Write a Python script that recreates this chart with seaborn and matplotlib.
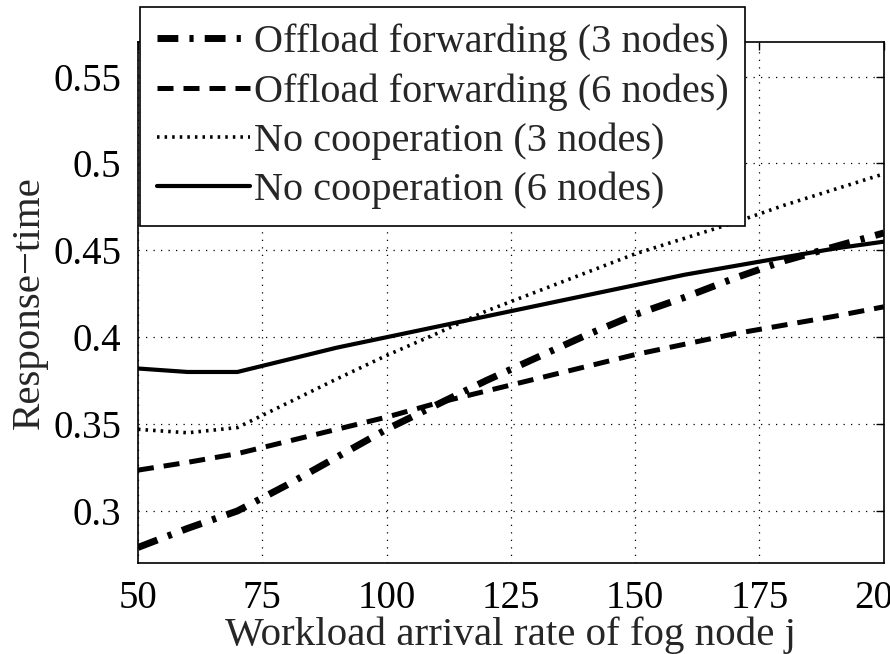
import numpy as np
import pandas as pd
import matplotlib
matplotlib.use("Agg")
import matplotlib.pyplot as plt
import seaborn as sns

x_rate = [50, 60, 70, 80, 90, 100, 110, 120, 130, 140, 150, 160, 170, 180, 190, 200]
offload_3 = [0.279, 0.290, 0.300, 0.315, 0.331, 0.347, 0.361, 0.375, 0.388, 0.401,
             0.413, 0.423, 0.434, 0.444, 0.452, 0.460]
offload_6 = [0.3235, 0.328, 0.333, 0.340, 0.347, 0.354, 0.362, 0.369, 0.376, 0.383,
             0.390, 0.396, 0.402, 0.407, 0.412, 0.4175]
nocoop_3 = [0.347, 0.345, 0.348, 0.362, 0.376, 0.3895, 0.402, 0.415, 0.426, 0.437,
            0.448, 0.457, 0.466, 0.476, 0.485, 0.494]
nocoop_6 = [0.382, 0.380, 0.380, 0.387, 0.394, 0.400, 0.406, 0.412, 0.418, 0.424,
            0.430, 0.436, 0.441, 0.446, 0.451, 0.455]
labels = ["Offload forwarding (3 nodes)", "Offload forwarding (6 nodes)",
          "No cooperation (3 nodes)", "No cooperation (6 nodes)"]
x_ticks = [50, 75, 100, 125, 150, 175, 200]
y_ticks = [0.3, 0.35, 0.4, 0.45, 0.5, 0.55]
y_ticklabels = ["0.3", "0.35", "0.4", "0.45", "0.5", "0.55"]

sns.set_style("white")
plt.rcParams["font.family"] = ["Liberation Serif", "DejaVu Serif"]

fig = plt.figure(figsize=(8.9, 6.54), dpi=100)
ax = fig.add_axes([0.155, 0.139, 0.838, 0.797])

series = [offload_3, offload_6, nocoop_3, nocoop_6]
styles = [
    dict(linestyle=(0, (3.0, 1.6, 0.6, 1.6)), linewidth=5.0),
    dict(linestyle=(0, (3.2, 2.0)), linewidth=3.6),
    dict(linestyle=(0, (0.7, 1.4)), linewidth=2.6),
    dict(linestyle="-", linewidth=3.0),
]
for ys, lab, st in zip(series, labels, styles):
    df = pd.DataFrame({"x": x_rate, "y": ys})
    sns.lineplot(data=df, x="x", y="y", ax=ax, color="black", label=lab, **st)

ax.set_xlim(50, 200)
ax.set_ylim(0.27, 0.57)
ax.set_xticks(x_ticks)
ax.set_xticklabels([str(t) for t in x_ticks])
ax.set_yticks(y_ticks)
ax.set_yticklabels(y_ticklabels)
ax.grid(True, color="black", linestyle=(0, (1, 5)), linewidth=0.9)
ax.tick_params(direction="in", length=6, width=1, top=True, right=True,
               labelsize=28, pad=12, colors="black")
for s in ax.spines.values():
    s.set_color("black")
    s.set_linewidth(1.2)
ax.set_xlabel("Workload arrival rate of fog node j", fontsize=29.5, labelpad=0)
ax.set_ylabel("Response\u2212time", fontsize=29.5, labelpad=4)

leg = ax.legend(loc="upper left", bbox_to_anchor=(0.003, 1.067), borderaxespad=0,
                fontsize=29, frameon=True, fancybox=False, framealpha=1,
                edgecolor="black", handlelength=2.3, handletextpad=0.1,
                labelspacing=0.29, borderpad=0.42)
leg.get_frame().set_linewidth(1.2)
leg.set_zorder(5)

fig.savefig("out.png", dpi=100)
